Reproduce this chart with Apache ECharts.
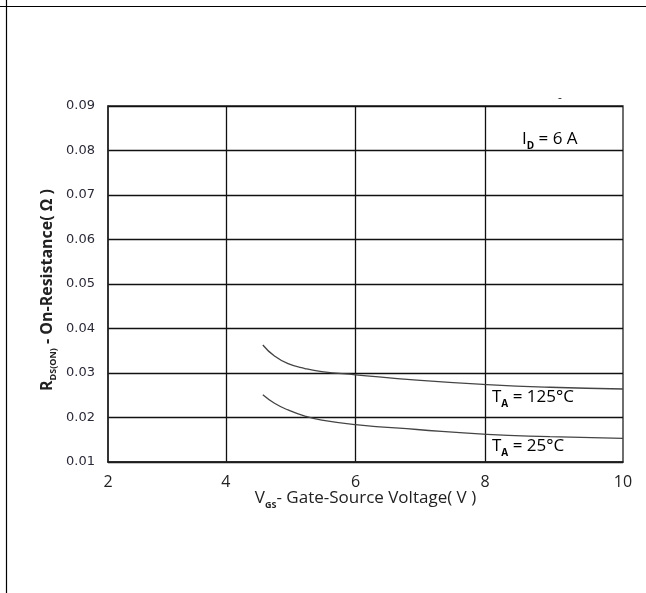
<!DOCTYPE html>
<html>
<head>
<meta charset="utf-8">
<script src="https://cdn.jsdelivr.net/npm/echarts@6/dist/echarts.min.js"></script>
<style>html,body{margin:0;padding:0;background:#fff;}#c{width:646px;height:593px;}</style>
</head>
<body>
<div id="c"></div>
<script>
// Axis extents (the reference's grid lines sit at 4, 6, 8; the frame edges are labelled 2 and 10)
const X_MIN = 2.18;
const X_MAX = 10.13;
const X_LINES = [4, 6, 8];
const X_LABEL_VALUES = [X_MIN, 4, 6, 8, X_MAX];
const X_LABELS = ['2', '4', '6', '8', '10'];
const Y_MIN = 0.01;
const Y_MAX = 0.09;
const Y_STEP = 0.01;

// T_A = 125°C
const V_125 = [4.57, 4.75, 4.96, 5.22, 5.48, 6.0, 6.95, 8.03, 9.0, 10.13];
const R_125 = [0.0363, 0.0338, 0.0321, 0.0310, 0.0303, 0.0296, 0.0284, 0.0274, 0.0268, 0.0264];
// T_A = 25°C
const V_25 = [4.57, 4.75, 4.96, 5.22, 5.48, 6.0, 6.95, 8.03, 9.0, 10.13];
const R_25 = [0.0251, 0.0232, 0.0217, 0.0203, 0.0194, 0.0184, 0.0173, 0.0162, 0.0157, 0.0153];

const FONT = '"Open Sans", sans-serif';
const pair = (xs, ys) => xs.map((x, i) => [x, ys[i]]);

const chart = echarts.init(document.getElementById('c'));
const mStyle = (size, weight) => ({ fontFamily: FONT, fontSize: size, fontWeight: weight || 'normal', color: '#222', verticalAlign: 'bottom', padding: [0, 0, 3, 0] });
const sStyle = (size) => ({ fontFamily: FONT, fontSize: size, color: '#222', verticalAlign: 'bottom', fontWeight: 'bold' });
const noteRich = { m: mStyle(17), s: sStyle(10) };

chart.setOption({
  animation: false,
  backgroundColor: '#fff',
  grid: { left: 108, right: 23, top: 106, bottom: 131, show: true, borderColor: '#222', borderWidth: 1.3 },
  xAxis: {
    type: 'value', min: X_MIN, max: X_MAX,
    axisLine: { show: true, lineStyle: { color: '#222', width: 1.5 } },
    axisTick: { show: false, customValues: X_LINES },
    splitLine: { show: true, lineStyle: { color: '#111', width: 1.3 } },
    axisLabel: {
      customValues: X_LABEL_VALUES, margin: 12,
      formatter: (v) => X_LABELS[X_LABEL_VALUES.indexOf(v)] ?? '',
      fontFamily: FONT, fontSize: 16, color: '#222'
    },
    name: '{m|V}{s|GS}{m|- Gate-Source Voltage( V )}',
    nameLocation: 'middle', nameGap: 28, nameMoveOverlap: false,
    nameTextStyle: { rich: { m: mStyle(17), s: sStyle(9) } }
  },
  yAxis: {
    type: 'value', min: Y_MIN, max: Y_MAX, interval: Y_STEP,
    axisLine: { show: true, lineStyle: { color: '#222', width: 1.5 } },
    axisTick: { show: false },
    splitLine: { show: true, lineStyle: { color: '#111', width: 1.3 } },
    axisLabel: { formatter: (v) => v.toFixed(2), margin: 13, fontFamily: '"DejaVu Sans", sans-serif', fontSize: 13, color: '#2a2a38' },
    name: '{m|R}{s|DS(ON)}{m| - On-Resistance( Ω )}',
    nameLocation: 'middle', nameRotate: 90, nameGap: 50, nameMoveOverlap: false,
    nameTextStyle: { padding: [0, 12, 0, 0], rich: { m: mStyle(16, 'bold'), s: sStyle(9) } }
  },
  series: [
    { name: 'TA = 125°C', type: 'line', smooth: true, showSymbol: false, data: pair(V_125, R_125),
      lineStyle: { color: '#444', width: 1.3 } },
    { name: 'TA = 25°C', type: 'line', smooth: true, showSymbol: false, data: pair(V_25, R_25),
      lineStyle: { color: '#444', width: 1.3 } }
  ],
  graphic: [
    { type: 'line', shape: { x1: 0, y1: 6.5, x2: 646, y2: 6.5 }, style: { stroke: '#000', lineWidth: 1.2 } },
    { type: 'line', shape: { x1: 6.5, y1: 0, x2: 6.5, y2: 593 }, style: { stroke: '#000', lineWidth: 1.2 } },
    { type: 'text', left: 558, top: 93, style: { text: '-', font: '12px ' + FONT, fill: '#333' } },
    { type: 'text', left: 522, top: 131, style: { text: '{m|I}{s|D}{m| = 6 A}', rich: noteRich } },
    { type: 'text', left: 492, top: 389, style: { text: '{m|T}{s|A}{m| = 125°C}', rich: noteRich } },
    { type: 'text', left: 492, top: 438, style: { text: '{m|T}{s|A}{m| = 25°C}', rich: noteRich } }
  ]
});
</script>
</body>
</html>
